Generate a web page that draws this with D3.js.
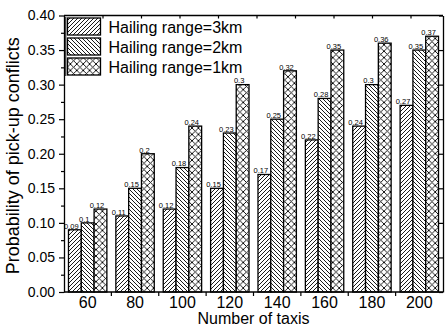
<!DOCTYPE html>
<html><head><meta charset="utf-8">
<script src="https://cdn.jsdelivr.net/npm/d3@7"></script>
<style>
html,body{margin:0;padding:0;background:#fff;}
svg{display:block;font-family:Arial,"Liberation Sans",sans-serif;}
</style></head>
<body><svg id="chart" width="445" height="326"></svg>
<script>
const categories = [60, 80, 100, 120, 140, 160, 180, 200];
const seriesNames = ["Hailing range=3km", "Hailing range=2km", "Hailing range=1km"];
const range3km = [0.09, 0.11, 0.12, 0.15, 0.17, 0.22, 0.24, 0.27];
const range2km = [0.1, 0.15, 0.18, 0.23, 0.25, 0.28, 0.3, 0.35];
const range1km = [0.12, 0.2, 0.24, 0.3, 0.32, 0.35, 0.36, 0.37];
const yTickValues = [0, 0.05, 0.10, 0.15, 0.20, 0.25, 0.30, 0.35, 0.40];
const yTitle = "Probability of pick-up conflicts";
const xTitle = "Number of taxis";

const seriesValues = [range3km, range2km, range1km];
const patternIds = ["pSlash", "pBack", "pCross"];

const svg = d3.select("#chart");
const L = 64, R = 443, T = 15.5, B = 292;

// patterns
const defs = svg.append("defs");
const p1 = defs.append("pattern").attr("id", "pSlash").attr("patternUnits", "userSpaceOnUse")
  .attr("width", 4).attr("height", 4);
p1.append("rect").attr("width", 4).attr("height", 4).attr("fill", "#fff");
p1.append("path").attr("d", "M-1,1 L1,-1 M0,4 L4,0 M3,5 L5,3").attr("stroke", "#000").attr("stroke-width", 0.9);
const p2 = defs.append("pattern").attr("id", "pBack").attr("patternUnits", "userSpaceOnUse")
  .attr("width", 4).attr("height", 4);
p2.append("rect").attr("width", 4).attr("height", 4).attr("fill", "#fff");
p2.append("path").attr("d", "M-1,3 L1,5 M0,0 L4,4 M3,-1 L5,1").attr("stroke", "#000").attr("stroke-width", 0.9);
const p3 = defs.append("pattern").attr("id", "pCross").attr("patternUnits", "userSpaceOnUse")
  .attr("width", 6.4).attr("height", 6.4);
p3.append("rect").attr("width", 6.4).attr("height", 6.4).attr("fill", "#fff");
p3.append("path").attr("d", "M0,0 L6.4,6.4 M6.4,0 L0,6.4").attr("stroke", "#000").attr("stroke-width", 0.9);

const x = d3.scaleBand().domain(categories).range([L, R]).padding(0);
const groupW = 38.4;
const xs = d3.scaleBand().domain(d3.range(seriesNames.length)).range([-groupW / 2, groupW / 2]).padding(0);
const y = d3.scaleLinear().domain([0, 0.40]).range([B, T]);

// bars
seriesValues.forEach((vals, si) => {
  const g = svg.append("g");
  g.selectAll("rect").data(vals).enter().append("rect")
    .attr("x", (d, i) => x(categories[i]) + x.bandwidth() / 2 + xs(si))
    .attr("y", d => y(d))
    .attr("width", xs.bandwidth())
    .attr("height", d => B - y(d))
    .attr("fill", `url(#${patternIds[si]})`)
    .attr("stroke", "#000").attr("stroke-width", 1.3);
  g.selectAll("text").data(vals).enter().append("text")
    .attr("x", (d, i) => x(categories[i]) + x.bandwidth() / 2 + xs(si) + xs.bandwidth() / 2 - 3.5)
    .attr("y", d => y(d) - 1.2)
    .attr("text-anchor", "middle")
    .attr("font-size", 7.5)
    .attr("fill", "#000")
    .text(d => String(d));
});

// axes
const axisStyle = g => { g.selectAll("path,line").attr("stroke", "#000").attr("stroke-width", 1.2); g.select(".domain").attr("stroke-width", 1.3); };

// left axis major
svg.append("g").attr("transform", `translate(${L},0)`)
  .call(d3.axisLeft(y).tickValues(yTickValues).tickFormat(d3.format(".2f")).tickSize(5).tickSizeOuter(0))
  .call(axisStyle)
  .call(g => g.selectAll("text").attr("font-size", 14).attr("font-family", "Arial, Liberation Sans, sans-serif").attr("fill", "#000").attr("dx", -1));
// left minor
svg.append("g").attr("transform", `translate(${L},0)`)
  .call(d3.axisLeft(y).tickValues(yTickValues.slice(0, -1).map(v => v + 0.025)).tickFormat("").tickSize(3).tickSizeOuter(0))
  .call(axisStyle).call(g => g.select(".domain").remove());

// right axis
svg.append("g").attr("transform", `translate(${R},0)`)
  .call(d3.axisRight(y).tickValues(yTickValues).tickFormat("").tickSize(-4).tickSizeOuter(0))
  .call(axisStyle);

// bottom axis: line + ticks at band boundaries
const boundaries = categories.slice(1).map(c => x(c));
svg.append("g").attr("transform", `translate(0,${B})`)
  .call(d3.axisBottom(x).tickFormat(d => d).tickSize(0).tickSizeOuter(0))
  .call(axisStyle)
  .call(g => g.select(".domain").attr("d", `M${L},0H${R}`))
  .call(g => g.selectAll("text").attr("font-size", 16).attr("font-family", "Arial, Liberation Sans, sans-serif").attr("fill", "#000").attr("y", 16).attr("dy", 0));
svg.append("g").selectAll("line").data(boundaries).enter().append("line")
  .attr("x1", d => d).attr("x2", d => d).attr("y1", B).attr("y2", B + 4)
  .attr("stroke", "#000").attr("stroke-width", 1.2);

// top axis
const xTop = d3.scaleLinear().domain([0, 10]).range([L, L + 385]);
svg.append("g").attr("transform", `translate(0,${T})`)
  .call(d3.axisTop(xTop).tickValues(d3.range(1, 10)).tickFormat("").tickSize(-3).tickSizeOuter(0))
  .call(axisStyle)
  .call(g => g.select(".domain").attr("d", `M${L},0H${R}`));

// legend
const leg = svg.append("g");
leg.append("line").attr("x1", 65.8).attr("x2", 65.8).attr("y1", T + 1.5).attr("y2", 76).attr("stroke", "#000").attr("stroke-width", 1);
seriesNames.forEach((name, i) => {
  const yy = 18 + i * 20;
  leg.append("rect").attr("x", 67.5).attr("y", yy).attr("width", 33).attr("height", 17)
    .attr("fill", `url(#${patternIds[i]})`).attr("stroke", "#000").attr("stroke-width", 1.3);
  leg.append("text").attr("x", 108.5).attr("y", yy + 14.5).attr("font-size", 16).attr("fill", "#000").text(name);
});

// titles
svg.append("text").attr("transform", `translate(19,${(T + B) / 2 + 2}) rotate(-90)`)
  .attr("text-anchor", "middle").attr("font-size", 18).attr("fill", "#000").text(yTitle);
svg.append("text").attr("x", (L + R) / 2).attr("y", 324)
  .attr("text-anchor", "middle").attr("font-size", 16).attr("fill", "#000").text(xTitle);
</script></body></html>
